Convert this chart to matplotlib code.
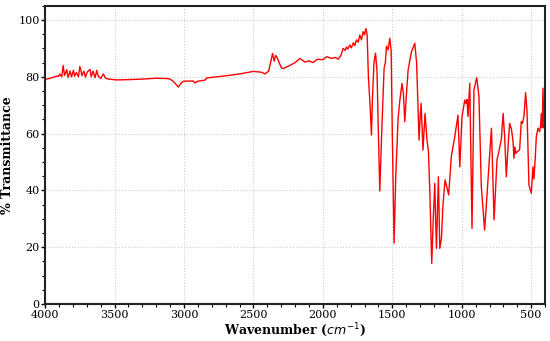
import numpy as np
import matplotlib
matplotlib.use("Agg")
import matplotlib.pyplot as plt
from matplotlib.ticker import MultipleLocator

# Spectrum (wavenumber in cm-1, % transmittance)
wavenumber = [4000, 3960, 3920, 3904, 3895, 3880, 3870, 3860, 3844, 3835, 3820, 3810, 3796,
              3788, 3775, 3760, 3750, 3743, 3735, 3720, 3710, 3695, 3676, 3668, 3655, 3640,
              3628, 3618, 3600, 3580, 3565, 3545, 3484, 3400, 3300, 3200, 3125, 3100, 3077,
              3060, 3041, 3020, 3005, 2970, 2933, 2920, 2905, 2880, 2849, 2837, 2760, 2693,
              2600, 2501, 2440, 2417, 2390, 2362, 2350, 2340, 2329, 2315, 2297, 2285, 2260,
              2237, 2200, 2166, 2150, 2130, 2100, 2070, 2040, 2000, 1973, 1940, 1910, 1890,
              1870, 1860, 1854, 1840, 1830, 1820, 1806, 1795, 1780, 1770, 1758, 1745, 1734,
              1722, 1710, 1700, 1690, 1681, 1672, 1660, 1650, 1643, 1632, 1621, 1610, 1600,
              1590, 1575, 1559, 1550, 1542, 1530, 1518, 1508, 1500, 1487, 1475, 1458, 1445,
              1430, 1420, 1410, 1398, 1386, 1362, 1338, 1325, 1315, 1307, 1300, 1293, 1285,
              1279, 1270, 1264, 1250, 1240, 1230, 1216, 1205, 1194, 1188, 1182, 1175, 1168,
              1163, 1158, 1146, 1135, 1120, 1105, 1094, 1075, 1050, 1027, 1014, 998, 978,
              970, 962, 955, 942, 926, 912, 892, 876, 859, 835, 811, 786, 767, 746, 727,
              715, 702, 690, 679, 667, 655, 642, 630, 624, 617, 610, 601, 590, 583, 571,
              563, 552, 540, 530, 523, 516, 508, 499, 487, 480, 470, 463, 451, 439, 432,
              427, 420, 415, 408, 400]
transmittance = [79.1, 79.5, 80.2, 80.2, 81.0, 80.0, 84.0, 80.5, 82.5, 79.8, 82.0, 80.0, 82.3,
                 80.2, 81.5, 80.0, 83.6, 82.5, 80.4, 82.0, 79.9, 81.8, 82.6, 80.0, 82.0, 79.7,
                 82.3, 80.3, 79.4, 81.0, 79.5, 79.2, 78.9, 79.0, 79.2, 79.5, 79.4, 79.2, 78.4,
                 77.5, 76.4, 77.8, 78.4, 78.5, 78.5, 77.8, 78.4, 78.6, 78.8, 79.6, 80.0, 80.4,
                 81.0, 81.9, 81.6, 81.0, 82.0, 88.2, 85.5, 87.5, 86.8, 85.0, 83.1, 82.9, 83.5,
                 84.0, 85.0, 86.4, 86.0, 85.2, 85.6, 85.0, 86.2, 86.0, 87.1, 86.5, 86.8, 86.2,
                 87.5, 89.0, 90.0, 89.3, 90.5, 89.8, 91.2, 90.2, 92.0, 91.0, 93.0, 92.2, 94.7,
                 93.0, 95.9, 94.8, 97.0, 94.7, 80.0, 70.0, 59.5, 72.0, 85.0, 88.3, 82.0, 60.0,
                 39.8, 62.0, 83.0, 85.0, 90.8, 89.5, 93.6, 89.0, 60.0, 21.4, 45.0, 65.4, 72.0,
                 77.7, 74.0, 64.2, 74.0, 82.4, 88.8, 91.8, 85.0, 70.0, 57.7, 65.0, 70.7, 62.0,
                 54.2, 62.0, 67.1, 57.7, 54.0, 40.0, 14.3, 30.0, 42.5, 30.0, 19.6, 32.0, 44.8,
                 32.0, 19.6, 23.1, 35.0, 43.7, 40.8, 38.4, 51.9, 58.9, 66.5, 48.3, 66.0, 71.8,
                 70.6, 72.0, 66.0, 77.7, 26.6, 75.4, 79.7, 73.0, 41.3, 26.0, 43.7, 61.9, 29.6,
                 50.7, 55.0, 58.0, 67.1, 58.0, 44.8, 55.0, 63.6, 61.6, 57.0, 51.3, 55.3, 53.0,
                 53.6, 54.0, 54.3, 64.2, 63.6, 66.0, 74.4, 68.0, 55.4, 41.9, 40.5, 39.0, 48.3,
                 44.0, 52.0, 58.9, 61.9, 60.7, 63.0, 67.1, 62.0, 76.0, 62.0, 64.0]

plt.rcParams["font.family"] = "DejaVu Serif"
plt.rcParams["mathtext.fontset"] = "dejavusans"

fig = plt.figure(figsize=(5.5, 3.41), dpi=100)
ax = fig.add_axes([0.082, 0.1085, 0.909, 0.8745])

ax.plot(wavenumber, transmittance, color="red", linewidth=1.0)

ax.set_xlim(4000, 400)
ax.set_ylim(0, 105)
ax.xaxis.set_major_locator(MultipleLocator(500))
ax.xaxis.set_minor_locator(MultipleLocator(100))
ax.yaxis.set_major_locator(MultipleLocator(20))
ax.yaxis.set_minor_locator(MultipleLocator(5))
ax.grid(True, which="major", linestyle=":", color="#cccccc", linewidth=0.8)

ax.tick_params(axis="both", which="major", labelsize=8, length=3, width=1, pad=1)
ax.tick_params(axis="both", which="minor", length=2, width=0.8)
for s in ax.spines.values():
    s.set_linewidth(1.5)
    s.set_color("#222222")

ax.set_xlabel("Wavenumber ($cm^{-1}$)", fontsize=9, fontweight="bold", labelpad=1)
ax.set_ylabel("% Transmittance", fontsize=9, fontweight="bold", labelpad=3)

fig.savefig("out.png", dpi=100)
